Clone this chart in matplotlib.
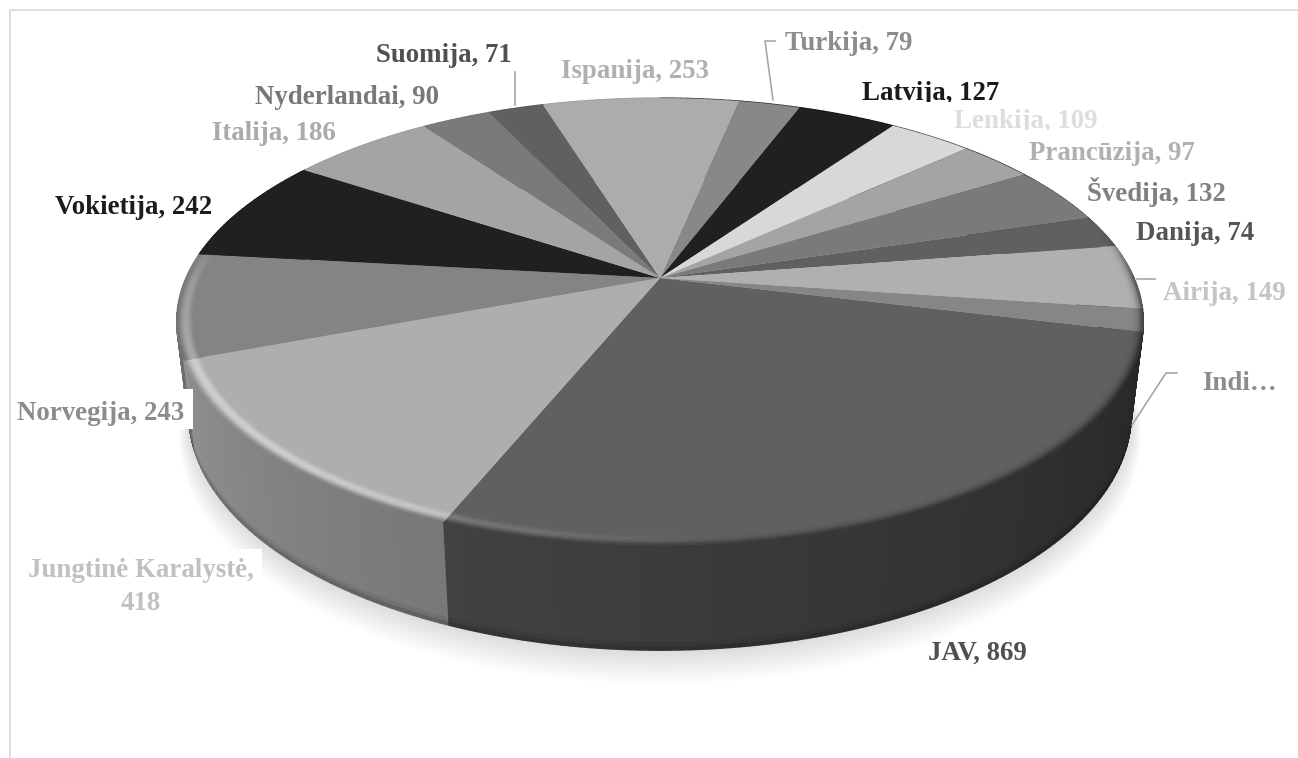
import numpy as np
import matplotlib
matplotlib.use("Agg")
import matplotlib.pyplot as plt
from matplotlib.collections import PolyCollection
from matplotlib.transforms import Transform, Bbox, TransformedBbox

# ---- data -----------------------------------------------------------------
countries = ["Turkija", "Latvija", "Lenkija", "Prancūzija", "Švedija", "Danija", "Airija",
             "Indija", "JAV", "Jungtinė Karalystė", "Norvegija", "Vokietija", "Italija",
             "Nyderlandai", "Suomija", "Ispanija"]
values = [79, 127, 109, 97, 132, 74, 149, 52, 869, 418, 243, 242, 186, 90, 71, 253]
greys = [0x88, 0x20, 0xD8, 0xA4, 0x7A, 0x60, 0xB0, 0x86, 0x60, 0xAE, 0x84, 0x20, 0xA4, 0x7A, 0x60, 0xAC]
label_texts = ["Turkija, 79", "Latvija, 127", "Lenkija, 109", "Prancūzija, 97", "Švedija, 132",
               "Danija, 74", "Airija, 149", "Indi…", "JAV, 869", "Jungtinė Karalystė,\n418",
               "Norvegija, 243", "Vokietija, 242", "Italija, 186", "Nyderlandai, 90",
               "Suomija, 71", "Ispanija, 253"]
label_greys = [0x8C, 0x1A, 0xDD, 0xB0, 0x80, 0x55, 0xC4, 0x8C, 0x50, 0xC0, 0x8C, 0x1C, 0xAA, 0x78, 0x50, 0xB0]

# ---- layout ---------------------------------------------------------------
W, H = 1298, 758
label_pos = [(849, 43), (931, 93), (1026, 122), (1112, 153), (1156, 192), (1195, 233), (1224, 294),
             (1239, 384), (977, 653), (141, 587), (101, 413), (134, 207), (274, 133), (347, 98),
             (444, 56), (635, 71)]
CX, CY, A, B, K, D, S = 660.0, 278.0, 474.0, 215.0, 0.195, 90.0, 0.975
START_CW = 11.5   # degrees clockwise from the top where the first slice begins


class Perspective(Transform):
    input_dims = output_dims = 2
    is_separable = False
    has_inverse = False

    def transform_non_affine(self, xy):
        xy = np.asarray(xy, float)
        w = 1 + K * xy[:, 1]
        return np.column_stack([CX + A * xy[:, 0] / w, CY - B * xy[:, 1] / w])


def project(t_deg, r=1.0, z=0.0):
    """Point on the pie at clockwise angle t, radius r, depth fraction z."""
    t = np.radians(t_deg)
    u, v = r * np.sin(t), r * np.cos(t)
    w = 1 + K * v
    s = 1 - (1 - S) * z
    return np.column_stack([CX + A * s * u / w, CY + (-B * s * v + D * z) / w])


def g(c):
    c = float(np.clip(c, 0, 255)) / 255
    return (c, c, c)


def smooth(x):
    x = np.clip(x, 0, 1)
    return x * x * (3 - 2 * x)


fig = plt.figure(figsize=(W / 100, H / 100), dpi=100, facecolor="white")
ax = fig.add_axes([0, 0, 1, 1])

# slices through the library's pie, then put into perspective
wedges, _ = ax.pie(values, colors=[g(c) for c in greys], startangle=90 - START_CW,
                   counterclock=False, radius=1.0, center=(0, 0),
                   wedgeprops=dict(linewidth=0))
proj = Perspective()
for w_ in wedges:
    w_.set_transform(proj + ax.transData)
    w_.set_zorder(5)
ax.set_aspect("auto")
ax.set_xlim(0, W)
ax.set_ylim(H, 0)
ax.axis("off")

# angular edges of every slice
edges = START_CW + np.concatenate([[0], np.cumsum(values)]) / np.sum(values) * 360.0


def slice_of(t):
    return int(np.searchsorted(edges, ((t - START_CW) % 360) + START_CW, side="right") - 1) % len(values)


def wall_shade(t):
    tt = t % 360
    return np.clip(0.42 + (tt - 110) * 0.0029, 0.35, 0.92)


def strip_limits(lo, hi, step):
    """Angular strips that never straddle a slice boundary."""
    inner = edges[(edges > lo) & (edges < hi)]
    return np.unique(np.concatenate([np.arange(lo, hi, step), inner, [hi]]))


# soft shadow under the pie
ts = np.linspace(0, 360, 361)
for i in range(18):
    f = i / 17
    pts = project(ts, r=1.0 + 0.026 * (1 - f), z=1.0 + 0.23 * (1 - f))
    ax.fill(pts[:, 0], pts[:, 1], color="black", alpha=0.0095, lw=0, zorder=1)

# side wall strips, back to front
lims = strip_limits(0, 360, 1.0)
pairs = list(zip(lims[:-1], lims[1:]))
pairs.sort(key=lambda p: -np.cos(np.radians((p[0] + p[1]) / 2)))
polys, cols = [], []
z_bands = [(0.0, 0.93, 1.0), (0.93, 0.97, 0.93), (0.97, 1.0, 0.8)]
for t0, t1 in pairs:
    mid = (t0 + t1) / 2
    c = greys[slice_of(mid)]
    sh = wall_shade(mid)
    for z0, z1, m in z_bands:
        a0 = project(np.array([t0, t1]), z=z0)
        a1 = project(np.array([t1, t0]), z=z1)
        polys.append(np.vstack([a0, a1]))
        cols.append(g(c * sh * m))
ax.add_collection(PolyCollection(polys, facecolors=cols, edgecolors=cols, linewidths=1.0, zorder=3))

# rounded rim between top face and wall
polys, cols = [], []
n_band = 9
r_edges = np.linspace(0.965, 1.0, n_band + 1)
lims = strip_limits(60, 310, 0.5)
for t0, t1 in zip(lims[:-1], lims[1:]):
    mid = (t0 + t1) / 2
    c = greys[slice_of(mid)]
    wall = c * wall_shade(mid)
    front = smooth((0.25 - np.cos(np.radians(mid))) / 0.3)
    hl = max(np.cos(np.radians((mid - 235) / 60 * 90)), 0.0) if 175 < mid < 295 else 0.0
    for i in range(n_band):
        x = (i + 0.5) / n_band
        col = c * (1 - x ** 4) + wall * x ** 4
        amt = 0.75 * hl * (c / 255) * np.sin(np.pi * x) ** 2
        col = col * (1 - amt) + 245 * amt
        col = c * (1 - front) + col * front
        p0 = project(np.array([t0, t1]), r=r_edges[i])
        p1 = project(np.array([t1, t0]), r=r_edges[i + 1])
        polys.append(np.vstack([p0, p1]))
        cols.append(g(col))
ax.add_collection(PolyCollection(polys, facecolors=cols, edgecolors=cols, linewidths=0.25, zorder=6))

# chart frame
ax.plot([10, W], [10, 10], color="#D9D9D9", lw=1.2, zorder=2)
ax.plot([10, 10], [10, H], color="#D9D9D9", lw=1.2, zorder=2)

# leader lines
leader_col = "#A6A6A6"
ax.plot([515, 515], [72, 105], color=leader_col, lw=1.2, zorder=7)
ax.plot([775, 765, 773], [41, 41, 100], color=leader_col, lw=1.2, zorder=7)
ax.plot([1137, 1155], [279, 279], color=leader_col, lw=1.2, zorder=7)
ax.plot([1132, 1166, 1177], [425, 373, 373], color=leader_col, lw=1.2, zorder=7)

# labels
white_box = {"Norvegija": (18, 389, 193, 429), "Jungtinė Karalystė": (20, 549, 262, 622)}
clip_bottom = {"Latvija": 102, "Lenkija": 130}
for name, txt, (x, y), gr in zip(countries, label_texts, label_pos, label_greys):
    if name in white_box:
        x0, y0, x1, y1 = white_box[name]
        ax.fill([x0, x1, x1, x0], [y0, y0, y1, y1], color="white", lw=0, zorder=8)
    t = ax.text(x, y, txt, ha="center", va="center", ma="center", family="Liberation Serif",
                weight="bold", fontsize=19.4, color=g(gr), zorder=9, linespacing=1.38)
    if name in clip_bottom:
        t.set_clip_box(TransformedBbox(Bbox([[0, 0], [W, clip_bottom[name]]]), ax.transData))
        t.set_clip_on(True)

fig.savefig("out.png", dpi=100, facecolor="white")
